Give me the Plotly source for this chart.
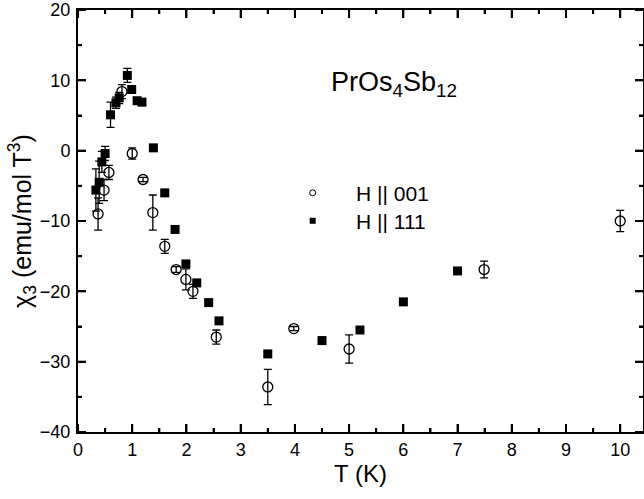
import plotly.graph_objects as go

# H || 001 (open circles)
t001 = [0.37, 0.48, 0.57, 0.81, 1.0, 1.2, 1.38, 1.6, 1.81, 1.99, 2.12, 2.55, 3.5, 3.98, 5.0, 7.49, 10.0]
chi001 = [-9.0, -5.6, -3.1, 8.4, -0.4, -4.1, -8.8, -13.6, -16.9, -18.3, -20.0, -26.5, -33.6, -25.3, -28.2, -16.9, -10.0]
err001 = [2.3, 1.5, 1.0, 1.0, 0.8, 0.3, 2.5, 1.0, 0.4, 1.5, 1.0, 1.0, 2.5, 0.3, 2.0, 1.2, 1.5]

# H || 111 (filled squares)
t111 = [0.33, 0.39, 0.44, 0.5, 0.6, 0.7, 0.76, 0.91, 0.99, 1.09, 1.18, 1.39, 1.6, 1.79, 1.99, 2.19, 2.41, 2.6, 3.5, 4.5, 5.2, 6.0, 7.0]
chi111 = [-5.6, -4.5, -1.6, -0.4, 5.1, 6.8, 7.5, 10.7, 8.7, 7.1, 6.9, 0.4, -6.0, -11.2, -16.1, -18.8, -21.6, -24.2, -28.9, -27.0, -25.5, -21.5, -17.1]
err111 = [3.0, 3.0, 1.5, 1.0, 1.8, 0.8, 0.8, 1.0, 0.5, 0.3, 0.3, 0.3, 0.3, 0.3, 0.3, 0.3, 0.3, 0.3, 0.3, 0.3, 0.3, 0.3, 0.3]

labels = ["H || 001", "H || 111"]

# axis ranges and tick values
x_range = [0, 10.42]
y_range = [-40, 20]
x_major = [0, 1, 2, 3, 4, 5, 6, 7, 8, 9, 10]
x_minor = [0.5, 1.5, 2.5, 3.5, 4.5, 5.5, 6.5, 7.5, 8.5, 9.5]
y_major = [-40, -30, -20, -10, 0, 10, 20]
y_minor = [-35, -25, -15, -5, 5, 15]

FONT = "Liberation Sans, Arial"
NB = "\u00a0"
MAJ, MIN = 8, 4

fig = go.Figure()
fig.add_trace(go.Scatter(
    x=t001, y=chi001, mode="markers", showlegend=False,
    error_y=dict(type="data", array=err001, color="black", thickness=1.3, width=4),
    marker=dict(symbol="circle-open", size=10, color="black", line=dict(width=1.3, color="black"))))
fig.add_trace(go.Scatter(
    x=t111, y=chi111, mode="markers", showlegend=False,
    error_y=dict(type="data", array=err111, color="black", thickness=1.3, width=4),
    marker=dict(symbol="square", size=9, color="black", line=dict(width=0))))

# legend entries (two separate legends for exact row placement)
fig.add_trace(go.Scatter(x=[None], y=[None], mode="markers", name=NB * 4 + labels[0], legend="legend",
    marker=dict(symbol="circle-open", size=6, color="black", line=dict(width=1, color="black"))))
fig.add_trace(go.Scatter(x=[None], y=[None], mode="markers", name=NB * 4 + labels[1], legend="legend2",
    marker=dict(symbol="square", size=6, color="black")))

# inward tick marks on all four sides as pixel-sized shapes anchored to the tick values
tick_line = dict(color="black", width=2)
for vals, ln in ((x_major, MAJ), (x_minor, MIN)):
    for v in vals:
        fig.add_shape(type="line", xref="x", yref="paper", xsizemode="scaled", ysizemode="pixel",
                      x0=v, x1=v, yanchor=0, y0=0, y1=ln, line=tick_line, layer="above")
        fig.add_shape(type="line", xref="x", yref="paper", ysizemode="pixel",
                      x0=v, x1=v, yanchor=1, y0=0, y1=-ln, line=tick_line, layer="above")
for vals, ln in ((y_major, MAJ), (y_minor, MIN)):
    for v in vals:
        fig.add_shape(type="line", xref="paper", yref="y", xsizemode="pixel",
                      y0=v, y1=v, xanchor=0, x0=0, x1=ln, line=tick_line, layer="above")
        fig.add_shape(type="line", xref="paper", yref="y", xsizemode="pixel",
                      y0=v, y1=v, xanchor=1, x0=0, x1=-ln, line=tick_line, layer="above")

fig.update_xaxes(range=x_range, tickvals=x_major,
                 showline=True, linecolor="black", linewidth=2, mirror="allticks",
                 ticks="inside", ticklen=MAJ, tickwidth=2, tickcolor="black",
                 minor=dict(tickvals=x_minor, ticks="inside", ticklen=MIN, tickwidth=2, tickcolor="black"),
                 showgrid=False, zeroline=False,
                 tickfont=dict(family=FONT, size=18, color="black"),
                 title=dict(text="T (K)", font=dict(family=FONT, size=24, color="black"), standoff=4))
fig.update_yaxes(range=y_range, tickvals=y_major, ticklabelstandoff=2,
                 showline=True, linecolor="black", linewidth=2, mirror="allticks",
                 ticks="inside", ticklen=MAJ, tickwidth=2, tickcolor="black",
                 minor=dict(tickvals=y_minor, ticks="inside", ticklen=MIN, tickwidth=2, tickcolor="black"),
                 showgrid=False, zeroline=False,
                 tickfont=dict(family=FONT, size=18, color="black"),
                 title=dict(text="χ<sub>3</sub> (emu/mol T<sup>3</sup>)", font=dict(family=FONT, size=25, color="black"), standoff=0))

fig.add_annotation(x=0.56, y=0.87, xref="paper", yref="paper",
                   text="PrOs<sub>4</sub>Sb<sub>12</sub>", showarrow=False,
                   font=dict(family=FONT, size=27, color="black"))

legend_common = dict(x=0.38, xanchor="left", yanchor="middle", bgcolor="rgba(0,0,0,0)",
                     font=dict(family=FONT, size=21, color="black"))
fig.update_layout(
    template="none",
    width=644, height=499,
    margin=dict(l=78, r=1, t=10, b=67),
    plot_bgcolor="white", paper_bgcolor="white",
    legend=dict(y=0.566, **legend_common),
    legend2=dict(y=0.5, **legend_common),
)

fig.write_html("out.html")
